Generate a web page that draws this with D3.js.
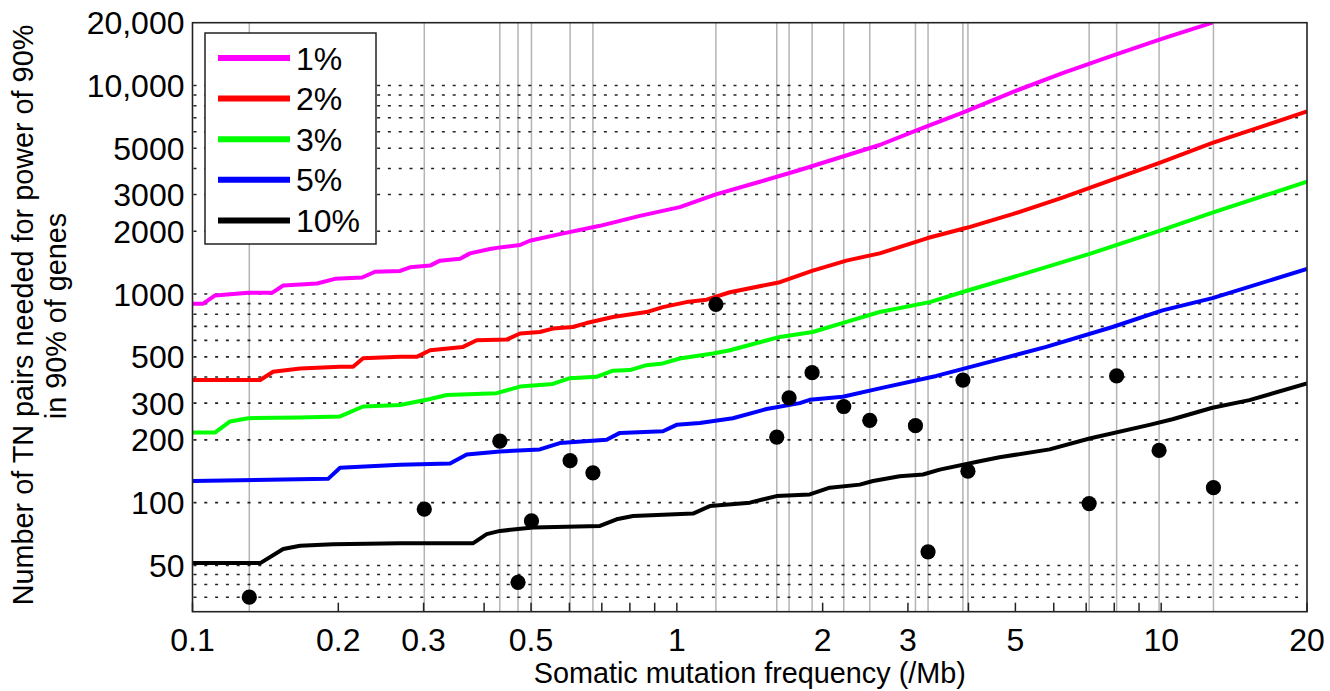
<!DOCTYPE html>
<html><head><meta charset="utf-8">
<script src="https://cdn.jsdelivr.net/npm/d3@7"></script>
<style>
body{margin:0;background:#fff}
svg{display:block}
text{font-family:"Liberation Sans",Arial,Helvetica,sans-serif;fill:#000}
</style>
</head><body>
<svg id="chart" width="1330" height="691"></svg>
<script>
// ---------- data ----------
const seriesNames = ["1%", "2%", "3%", "5%", "10%"];
const seriesColors = ["#ff00ff", "#ff0000", "#00ff00", "#0000ff", "#000000"];

const curve1 = [[0.1,899],[0.1052,899],[0.1114,985],[0.1303,1014],[0.146,1014],[0.1539,1099],[0.1808,1124],[0.1969,1183],[0.2239,1200],[0.2382,1280],[0.2683,1290],[0.2813,1344],[0.3094,1369],[0.3243,1446],[0.3567,1478],[0.374,1567],[0.4113,1644],[0.4313,1674],[0.4745,1718],[0.497,1802],[0.5733,1939],[0.6937,2124],[0.8388,2371],[1.014,2610],[1.204,3007],[1.484,3456],[1.794,3933],[2.169,4515],[2.623,5184],[3.172,6183],[3.891,7419],[4.934,9301],[6.256,11470],[7.934,13910],[10.06,16790],[12.76,20000]];
const curve2 = [[0.1,387],[0.138,387],[0.1467,424],[0.1668,440],[0.2017,448],[0.2146,448],[0.225,492],[0.2683,500],[0.2904,500],[0.3094,538],[0.3619,558],[0.3861,601],[0.4453,605],[0.4745,647],[0.5212,658],[0.5546,683],[0.6098,695],[0.6508,726],[0.7379,776],[0.866,820],[0.9357,866],[1.047,915],[1.152,940],[1.287,1020],[1.632,1140],[1.908,1296],[2.239,1446],[2.623,1567],[3.295,1856],[3.985,2084],[4.934,2415],[6.256,2898],[8.124,3610],[9.92,4256],[12.76,5303],[16.18,6368],[20,7508]];
const curve3 = [[0.1,217],[0.1114,217],[0.1196,245],[0.1303,254],[0.1668,256],[0.2017,259],[0.225,289],[0.2683,294],[0.3094,314],[0.3349,328],[0.4246,335],[0.4745,360],[0.5546,371],[0.6012,395],[0.6829,401],[0.7379,429],[0.7998,432],[0.866,456],[0.9357,465],[1.014,491],[1.187,519],[1.287,538],[1.632,623],[1.908,658],[2.239,735],[2.623,820],[3.327,915],[3.985,1040],[4.934,1204],[7.114,1557],[9.92,2011],[12.76,2458],[20,3455]];
const curve5 = [[0.1,127],[0.1905,130],[0.2017,147],[0.2683,152],[0.3402,154],[0.3683,170],[0.4313,176],[0.5212,180],[0.5733,193],[0.7161,200],[0.7628,216],[0.936,220],[0.9986,236],[1.115,241],[1.305,254],[1.532,281],[1.794,300],[1.881,311],[2.2,322],[2.623,353],[3.434,405],[4.566,482],[5.789,558],[7.934,695],[10.06,835],[12.76,956],[20,1320]];
const curve10 = [[0.1,51.3],[0.138,51.3],[0.1539,59.9],[0.1668,62.1],[0.195,63.2],[0.2683,63.9],[0.3799,63.9],[0.4049,70.6],[0.4313,73.2],[0.5049,76],[0.6937,77.3],[0.7509,83.2],[0.8124,86.3],[1.08,88.6],[1.17,96.3],[1.415,100],[1.606,107.5],[1.881,109.5],[2.069,117.9],[2.386,122],[2.541,127],[2.885,133.9],[3.223,136.5],[3.489,144],[4.218,158],[4.637,165],[5.883,180],[7.112,203],[9.46,236],[10.55,251],[12.76,285],[15.21,310],[20,373]];

const tumorX = [0.131,0.301,0.431,0.470,0.501,0.602,0.671,1.204,1.608,1.705,1.902,2.211,2.502,3.109,3.301,3.896,3.99,7.10,8.09,9.90,12.82];
const tumorY = [35.2,93,197,41.5,81.7,159,139,892,206,318,420,289,248,234,58.1,387,141.5,99,405,178,118];

const xTickValues = [0.1,0.2,0.3,0.5,1,2,3,5,10,20];
const xTickLabels = ["0.1","0.2","0.3","0.5","1","2","3","5","10","20"];
const yTickValues = [50,100,200,300,500,1000,2000,3000,5000,10000,20000];
const yTickLabels = ["50","100","200","300","500","1000","2000","3000","5000","10,000","20,000"];
const yGridValues = [35.2,40.5,45.2,50,100,200,300,400,500,600,700,800,900,1000,2000,3000,4000,5000,6000,7000,8000,9000,10000];

const xTitle = "Somatic mutation frequency (/Mb)";
const yTitle1 = "Number of TN pairs needed for power of 90%";
const yTitle2 = "in 90% of genes";

// ---------- layout ----------
const L = 192.5, R = 1307, T = 22.7, B = 611.7;
const svg = d3.select("#chart");
const x = d3.scaleLog().domain([0.1, 20]).range([L, R]);
const y = d3.scaleLog().domain([30, 20000]).range([B, T]);

svg.append("rect").attr("width",1330).attr("height",691).attr("fill","#fff");
svg.append("defs").append("clipPath").attr("id","plotclip")
  .append("rect").attr("x",L).attr("y",T).attr("width",R-L).attr("height",B-T);

// vertical grey lines at samples
svg.append("g").selectAll("line").data(tumorX).join("line")
  .attr("x1",d=>x(d)).attr("x2",d=>x(d)).attr("y1",T).attr("y2",B)
  .attr("stroke","#b4b4b4").attr("stroke-width",1.5);

// horizontal dotted grid
svg.append("g").selectAll("line").data(yGridValues).join("line")
  .attr("x1",L+1).attr("x2",R-3).attr("y1",d=>y(d)).attr("y2",d=>y(d))
  .attr("stroke","#222").attr("stroke-width",1.6).attr("stroke-dasharray","3,7.8");

// curves
const curves = [curve1, curve2, curve3, curve5, curve10];
const line = d3.line().x(d=>x(d[0])).y(d=>y(d[1]));
svg.append("g").attr("clip-path","url(#plotclip)").selectAll("path").data(curves).join("path")
  .attr("d", line).attr("fill","none")
  .attr("stroke",(d,i)=>seriesColors[i]).attr("stroke-width",4).attr("stroke-linejoin","round");

// sample dots
svg.append("g").selectAll("circle").data(tumorX).join("circle")
  .attr("cx",d=>x(d)).attr("cy",(d,i)=>y(tumorY[i])).attr("r",7.6).attr("fill","#000");

// frame
svg.append("rect").attr("x",L).attr("y",T).attr("width",R-L).attr("height",B-T)
  .attr("fill","none").attr("stroke","#222").attr("stroke-width",1.6);

// x ticks (inward)
svg.append("g").selectAll("line").data(x.ticks()).join("line")
  .attr("x1",d=>x(d)).attr("x2",d=>x(d)).attr("y1",B).attr("y2",B-9)
  .attr("stroke","#222").attr("stroke-width",1.5);

// x tick labels
svg.append("g").selectAll("text").data(xTickValues).join("text")
  .attr("x",d=>x(d)).attr("y",B+39.5).attr("text-anchor","middle")
  .style("font-size","32px").text((d,i)=>xTickLabels[i]);

// y tick labels
svg.append("g").selectAll("text").data(yTickValues).join("text")
  .attr("x",L-8).attr("y",d=>y(d)+11.5).attr("text-anchor","end")
  .style("font-size","32px").text((d,i)=>yTickLabels[i]);

// axis titles
svg.append("text").attr("x",(L+R)/2).attr("y",683).attr("text-anchor","middle")
  .style("font-size","28.8px").text(xTitle);
svg.append("text").attr("transform","translate(33.3,315) rotate(-90)").attr("text-anchor","middle")
  .style("font-size","28.8px").text(yTitle1);
svg.append("text").attr("transform","translate(66,316) rotate(-90)").attr("text-anchor","middle")
  .style("font-size","28.8px").text(yTitle2);

// legend
const lg = svg.append("g");
lg.append("rect").attr("x",205).attr("y",33).attr("width",171).attr("height",211)
  .attr("fill","#fff").attr("stroke","#222").attr("stroke-width",1.5);
const rows = lg.selectAll("g").data(seriesNames).join("g")
  .attr("transform",(d,i)=>`translate(0,${58 + i*40.6})`);
rows.append("line").attr("x1",218).attr("x2",290).attr("y1",0).attr("y2",0)
  .attr("stroke",(d,i)=>seriesColors[i]).attr("stroke-width",6);
rows.append("text").attr("x",296).attr("y",11.5).style("font-size","32px").text(d=>d);
</script>
</body></html>
